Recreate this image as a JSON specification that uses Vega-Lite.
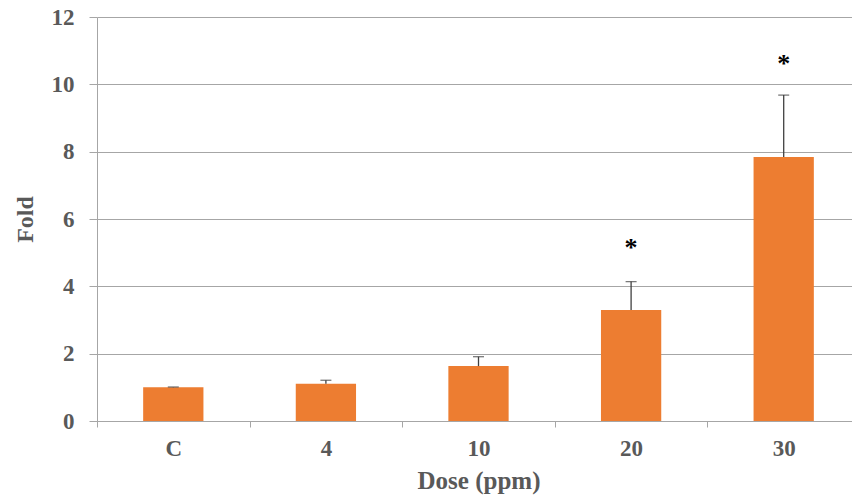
{
  "$schema": "https://vega.github.io/schema/vega-lite/v6.json",
  "autosize": "none",
  "padding": {"left": 97, "top": 17, "right": 0, "bottom": 75},
  "width": 763,
  "height": 404,
  "background": "white",
  "config": {
    "view": {"stroke": null},
    "font": "Liberation Serif"
  },
  "data": {
    "values": [
      {"dose": "C", "fold": 1.0, "upper": 1.01, "star": null},
      {"dose": "4", "fold": 1.11, "upper": 1.21, "star": null},
      {"dose": "10", "fold": 1.63, "upper": 1.91, "star": null},
      {"dose": "20", "fold": 3.3, "upper": 4.14, "star": 5.3},
      {"dose": "30", "fold": 7.84, "upper": 9.68, "star": 10.75}
    ]
  },
  "encoding": {
    "x": {
      "field": "dose",
      "type": "nominal",
      "sort": null,
      "scale": {"paddingInner": 0, "paddingOuter": 0},
      "axis": {
        "title": "Dose (ppm)",
        "labelAngle": 0,
        "labelFont": "Liberation Serif",
        "labelFontSize": 23,
        "labelFontWeight": "bold",
        "labelColor": "#595959",
        "labelPadding": 10,
        "tickBand": "extent",
        "tickSize": 6,
        "tickColor": "#a6a6a6",
        "domainColor": "#a6a6a6",
        "titleFont": "Liberation Serif",
        "titleFontSize": 25,
        "titleFontWeight": "bold",
        "titleColor": "#595959",
        "titlePadding": 8
      }
    }
  },
  "layer": [
    {
      "mark": {"type": "bar", "color": "#ED7D31", "width": {"band": 0.395}},
      "encoding": {
        "y": {
          "field": "fold",
          "type": "quantitative",
          "scale": {"domain": [0, 12], "nice": false},
          "axis": {
            "title": "Fold",
            "values": [0, 2, 4, 6, 8, 10, 12],
            "grid": true,
            "gridColor": "#a6a6a6",
            "domainColor": "#a6a6a6",
            "tickColor": "#a6a6a6",
            "tickSize": 8,
            "labelFont": "Liberation Serif",
            "labelFontSize": 23,
            "labelFontWeight": "bold",
            "labelColor": "#595959",
            "labelPadding": 15,
            "titleFont": "Liberation Serif",
            "titleFontSize": 24,
            "titleFontWeight": "bold",
            "titleColor": "#595959",
            "titlePadding": 14
          }
        }
      }
    },
    {
      "mark": {"type": "rule", "color": "#404040", "strokeWidth": 1.3},
      "encoding": {
        "y": {"field": "fold", "type": "quantitative"},
        "y2": {"field": "upper"}
      }
    },
    {
      "mark": {"type": "tick", "color": "#404040", "size": 11, "thickness": 1.3},
      "encoding": {
        "y": {"field": "upper", "type": "quantitative"}
      }
    },
    {
      "transform": [{"filter": "datum.star != null"}],
      "mark": {"type": "text", "text": "*", "fontSize": 26, "fontWeight": "bold", "color": "#000000", "font": "Liberation Serif", "baseline": "middle", "dy": 5},
      "encoding": {
        "y": {"field": "star", "type": "quantitative"}
      }
    }
  ]
}
